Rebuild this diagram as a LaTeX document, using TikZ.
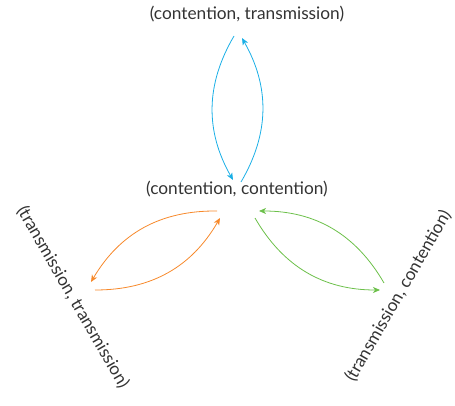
\documentclass[tikz,border=0pt]{standalone}
\usepackage{fontspec}
\setmainfont{Lato}
\usetikzlibrary{arrows.meta}
\definecolor{cblue}{HTML}{1AAFE6}
\definecolor{corange}{HTML}{F7892B}
\definecolor{cgreen}{HTML}{6CC04A}
\definecolor{ctext}{HTML}{333333}
\tikzset{
  state/.style={font=\fontsize{17.3}{20}\selectfont, text=ctext, inner sep=0pt},
  link/.style={line width=0.8pt, -{Stealth[length=7pt,width=6pt,inset=2pt]}},
}
\begin{document}
\begin{tikzpicture}[x=1pt,y=-1pt]
\useasboundingbox (0,0) rectangle (455,406);
\node[state] (top) at (247,14) {(contention, transmission)};
\node[state] (mid) at (237,189) {(contention, contention)};
\node[state, rotate=-60] (left) at (73,297) {(transmission, transmission)};
\node[state, rotate=60] (right) at (398,296) {(transmission, contention)};
% blue
\draw[link, cblue] ([shift={(-13,22)}]top.center) to[bend right=30] ([shift={(-4,-9)}]mid.center);
\draw[link, cblue] ([shift={(4,-7)}]mid.center) to[bend right=30] ([shift={(-5,24)}]top.center);
% orange
\draw[link, corange] ([shift={(-20,22)}]mid.center) to[bend right=30] ([shift={(18,-15)}]left.center);
\draw[link, corange] ([shift={(22,-7)}]left.center) to[bend right=30] ([shift={(-17,29)}]mid.center);
% green
\draw[link, cgreen] ([shift={(18,29)}]mid.center) to[bend right=30] ([shift={(-18,-6)}]right.center);
\draw[link, cgreen] ([shift={(-14,-13)}]right.center) to[bend right=30] ([shift={(22,22)}]mid.center);
\end{tikzpicture}
\end{document}
